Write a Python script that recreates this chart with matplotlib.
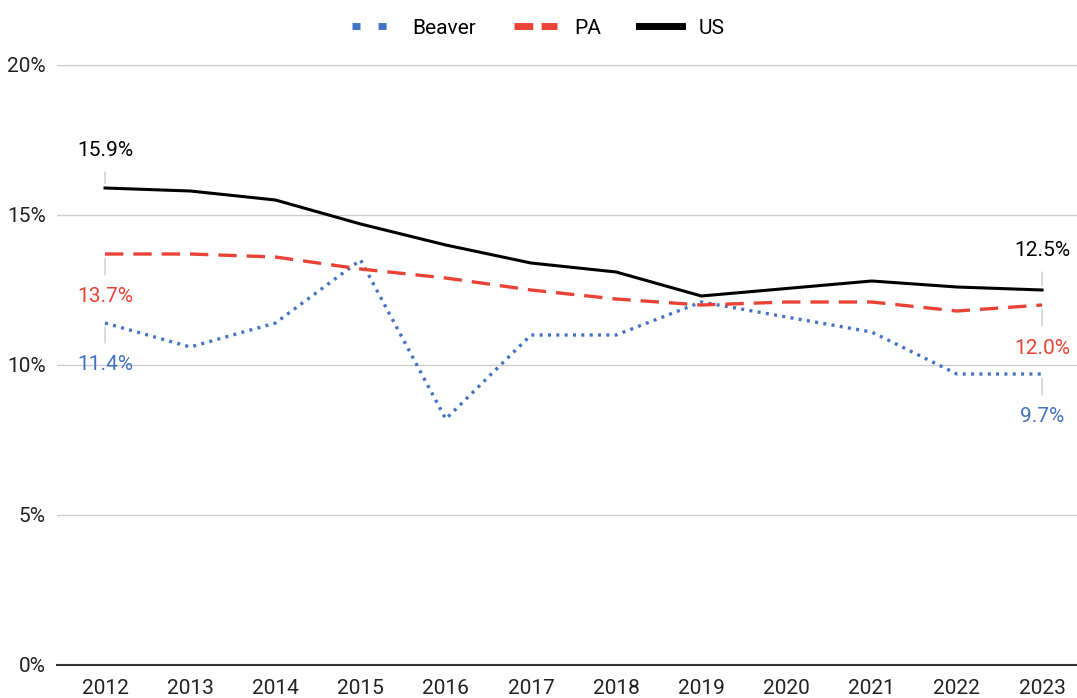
import numpy as np
import matplotlib.pyplot as plt
from matplotlib.lines import Line2D

plt.rcParams['font.family'] = ['Roboto', 'DejaVu Sans']

years = [2012, 2013, 2014, 2015, 2016, 2017, 2018, 2019, 2020, 2021, 2022, 2023]
beaver = [11.4, 10.6, 11.4, 13.5, 8.2, 11.0, 11.0, 12.1, 11.6, 11.1, 9.7, 9.7]
pa = [13.7, 13.7, 13.6, 13.2, 12.9, 12.5, 12.2, 12.0, 12.1, 12.1, 11.8, 12.0]
us = [15.9, 15.8, 15.5, 14.7, 14.0, 13.4, 13.1, 12.3, 12.55, 12.8, 12.6, 12.5]

blue = '#4472c4'
red = '#ea4335'

fig = plt.figure(figsize=(10.77, 6.98), dpi=100)
ax = fig.add_axes([57 / 1077, 33 / 698, 1020 / 1077, 600 / 698])

ax.plot(years, beaver, color=blue, lw=2.4, linestyle=(0, (0.9, 1.6)), label='Beaver', zorder=3)
ax.plot(years, pa, color=red, lw=2.4, linestyle=(0, (5.5, 3)), label='PA', zorder=3)
ax.plot(years, us, color='black', lw=2.2, label='US', zorder=4)

ax.set_xlim(2011.436, 2023.41)
ax.set_ylim(0, 20)
ax.set_yticks([0, 5, 10, 15, 20])
ax.set_yticklabels([f'{v}%' for v in [0, 5, 10, 15, 20]])
ax.set_xticks(years)
ax.set_xticklabels([str(y) for y in years])
ax.grid(axis='y', color='#cccccc', lw=1)
ax.set_axisbelow(True)
for s in ['top', 'right', 'left']:
    ax.spines[s].set_visible(False)
ax.spines['bottom'].set_color('#333333')
ax.spines['bottom'].set_linewidth(1.5)
ax.tick_params(axis='both', length=0, labelsize=15, colors='#222222')
ax.tick_params(axis='y', pad=8)
ax.tick_params(axis='x', pad=10)


def label(x, y, txt, color, dy):
    ax.annotate(txt, (x, y), xytext=(0, dy), textcoords='offset pixels',
                ha='center', va='center', fontsize=15, color=color,
                arrowprops=dict(arrowstyle='-', color='#cccccc', lw=1,
                                shrinkA=7, shrinkB=3), zorder=5)


label(years[0], us[0], '15.9%', 'black', 38)
label(years[0], pa[0], '13.7%', red, -43)
label(years[0], beaver[0], '11.4%', blue, -42)
label(years[-1], us[-1], '12.5%', 'black', 40)
label(years[-1], pa[-1], '12.0%', red, -43)
label(years[-1], beaver[-1], '9.7%', blue, -43)

handles = [
    Line2D([], [], color=blue, lw=5, linestyle=(0, (1.15, 2.6))),
    Line2D([], [], color=red, lw=5, linestyle=(0, (2.7, 1.2))),
    Line2D([], [], color='black', lw=5),
]
fig.legend(handles, ['Beaver', 'PA', 'US'], loc='upper center',
           bbox_to_anchor=(0.5, 1.0), ncol=3, frameon=False,
           fontsize=15, handlelength=2.1, columnspacing=1.8, handletextpad=0.8)

fig.savefig('out.png', dpi=100)
